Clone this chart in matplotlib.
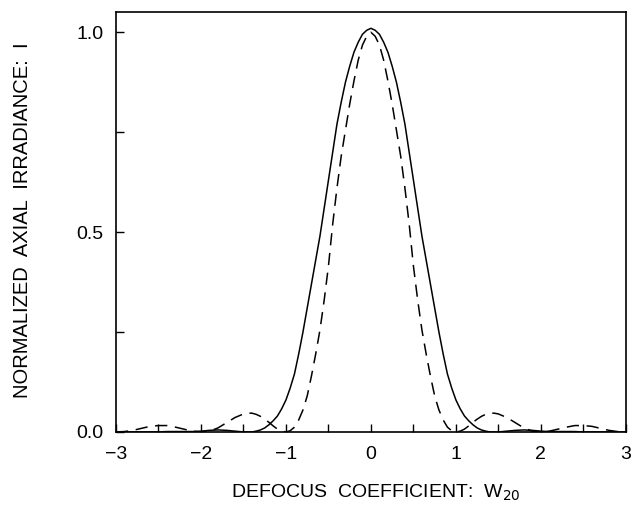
import matplotlib.pyplot as plt

# values (finer spacing around the main lobe)
w20 = [-3.0, -2.9, -2.8, -2.7, -2.6, -2.5, -2.4, -2.3, -2.2, -2.1,
       -2.0, -1.9, -1.8, -1.7, -1.6,
       -1.5, -1.45, -1.4, -1.35, -1.3, -1.25, -1.2, -1.15, -1.1, -1.05,
       -1.0, -0.95, -0.9, -0.85, -0.8, -0.75, -0.7, -0.65, -0.6, -0.55,
       -0.5, -0.45, -0.4, -0.35, -0.3, -0.25, -0.2, -0.15, -0.1, -0.05,
       0.0,
       0.05, 0.1, 0.15, 0.2, 0.25, 0.3, 0.35, 0.4, 0.45, 0.5,
       0.55, 0.6, 0.65, 0.7, 0.75, 0.8, 0.85, 0.9, 0.95, 1.0,
       1.05, 1.1, 1.15, 1.2, 1.25, 1.3, 1.35, 1.4, 1.45, 1.5,
       1.6, 1.7, 1.8, 1.9, 2.0, 2.1, 2.2, 2.3, 2.4, 2.5,
       2.6, 2.7, 2.8, 2.9, 3.0]

solid = [0.0, 0.0, 0.0, 0.0, 0.0, 0.0, 0.001, 0.001, 0.001, 0.001,
         0.002, 0.004, 0.005, 0.004, 0.002,
         0.0, 0.0, 0.0, 0.002, 0.005, 0.010, 0.018, 0.028, 0.040, 0.058,
         0.080, 0.110, 0.145, 0.195, 0.250, 0.310, 0.370, 0.430, 0.490, 0.560,
         0.630, 0.700, 0.770, 0.825, 0.875, 0.915, 0.950, 0.975, 0.995, 1.005,
         1.010,
         1.005, 0.995, 0.975, 0.950, 0.915, 0.875, 0.825, 0.770, 0.700, 0.630,
         0.560, 0.490, 0.430, 0.370, 0.310, 0.250, 0.195, 0.145, 0.110, 0.080,
         0.058, 0.040, 0.028, 0.018, 0.010, 0.005, 0.002, 0.0, 0.0, 0.0,
         0.002, 0.004, 0.005, 0.004, 0.002, 0.001, 0.001, 0.001, 0.001, 0.0,
         0.0, 0.0, 0.0, 0.0, 0.0]

dashed = [0.0, 0.001, 0.004, 0.009, 0.014, 0.016, 0.016, 0.012, 0.007, 0.002,
          0.0, 0.002, 0.010, 0.023, 0.036,
          0.045, 0.047, 0.047, 0.044, 0.039, 0.032, 0.024, 0.015, 0.007, 0.002,
          0.0, 0.003, 0.012, 0.030, 0.055, 0.090, 0.140, 0.195, 0.255, 0.330,
          0.415, 0.520, 0.610, 0.690, 0.755, 0.820, 0.878, 0.930, 0.968, 0.990,
          1.000,
          0.990, 0.968, 0.930, 0.878, 0.820, 0.755, 0.690, 0.610, 0.520, 0.415,
          0.330, 0.255, 0.195, 0.140, 0.090, 0.055, 0.030, 0.012, 0.003, 0.0,
          0.002, 0.007, 0.015, 0.024, 0.032, 0.039, 0.044, 0.047, 0.047, 0.045,
          0.036, 0.023, 0.010, 0.002, 0.0, 0.002, 0.007, 0.012, 0.016, 0.016,
          0.014, 0.009, 0.004, 0.001, 0.0]

x_ticks = [-3, -2, -1, 0, 1, 2, 3]
x_minor = [-2.5, -1.5, -0.5, 0.5, 1.5, 2.5]
y_ticks = [0.0, 0.5, 1.0]
y_minor = [0.25, 0.75]

plt.rcParams['font.family'] = ['Liberation Sans', 'DejaVu Sans']

fig = plt.figure(figsize=(6.39, 5.13), dpi=100)
ax = fig.add_axes([0.1815, 0.158, 0.798, 0.818])

ax.plot(w20, solid, color='black', lw=1.1)
ax.plot(w20, dashed, color='black', lw=1.1, dashes=(8, 5))

ax.set_xlim(-3, 3)
ax.set_ylim(0, 1.05)
ax.set_xticks(x_ticks)
ax.set_xticks(x_minor, minor=True)
ax.set_yticks(y_ticks)
ax.set_yticks(y_minor, minor=True)
ax.set_yticklabels(['0.0', '0.5', '1.0'])
ax.tick_params(which='both', direction='in', length=6, width=1.0,
               labelsize=14, colors='black')
ax.tick_params(axis='x', pad=10)
ax.tick_params(axis='y', pad=9)
for s in ax.spines.values():
    s.set_linewidth(1.2)

ax.set_xlabel('DEFOCUS  COEFFICIENT:  W$_{\\mathrm{20}}$', fontsize=14)
ax.set_ylabel('NORMALIZED  AXIAL  IRRADIANCE:  I', fontsize=14.5)
ax.xaxis.set_label_coords(0.51, -0.122)
ax.yaxis.set_label_coords(-0.165, 0.505)

fig.savefig('out.png', dpi=100)
plt.close(fig)
